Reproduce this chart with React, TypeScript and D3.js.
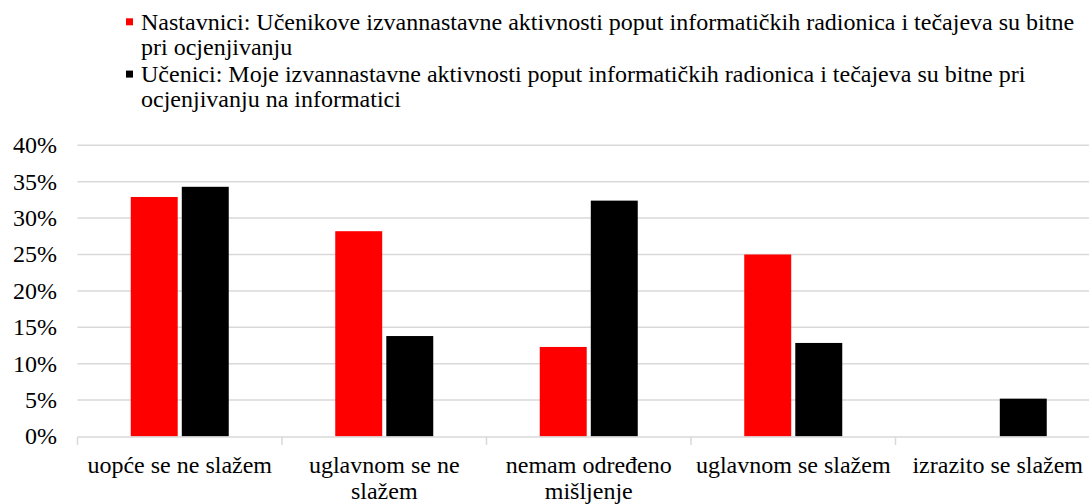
import React, { useEffect, useRef } from 'react';
import * as d3 from 'd3';

const categories = [
  'uopće se ne slažem',
  'uglavnom se ne slažem',
  'nemam određeno mišljenje',
  'uglavnom se slažem',
  'izrazito se slažem',
];
const seriesNames = [
  'Nastavnici: Učenikove izvannastavne aktivnosti poput informatičkih radionica i tečajeva su bitne pri ocjenjivanju',
  'Učenici: Moje izvannastavne aktivnosti poput informatičkih radionica i tečajeva su bitne pri ocjenjivanju na informatici',
];
const teachers = [32.9, 28.2, 12.3, 25.0, 0];
const students = [34.3, 13.8, 32.4, 12.85, 5.2];
const yTicks = [0, 5, 10, 15, 20, 25, 30, 35, 40];
const colors = ['#ff0000', '#000000'];

const W = 1089;
const H = 504;
const FONT = 'Liberation Serif';

// splits text into lines no wider than maxW
function wrapText(sel: any, text: string, maxW: number, x: number, y: number, lineH: number, anchor: string) {
  const words = text.split(' ');
  const lines: string[] = [];
  let cur = '';
  const probe = sel.append('text').style('visibility', 'hidden');
  words.forEach((w) => {
    const tryLine = cur ? cur + ' ' + w : w;
    probe.text(tryLine);
    if ((probe.node() as SVGTextElement).getComputedTextLength() > maxW && cur) {
      lines.push(cur);
      cur = w;
    } else {
      cur = tryLine;
    }
  });
  if (cur) lines.push(cur);
  probe.remove();
  lines.forEach((l, i) => {
    sel.append('text')
      .attr('x', x)
      .attr('y', y + i * lineH)
      .attr('text-anchor', anchor)
      .text(l);
  });
  return lines.length;
}

export default function App() {
  const ref = useRef<SVGSVGElement>(null);

  useEffect(() => {
    document.body.style.margin = '0';
    const svg = d3.select(ref.current);
    svg.selectAll('*').remove();

    // plot area runs a bit past the right edge of the picture
    const x = d3.scaleBand().domain(categories).range([77.5, 1100]);
    const x1 = d3.scaleBand().domain(['0', '1']).range([-49, 49]).paddingInner(0.08);
    const y = d3.scaleLinear().domain([0, 40]).range([436.5, 145.3]);

    // gridlines
    svg.append('g')
      .selectAll('line')
      .data(yTicks.filter((t) => t > 0))
      .enter()
      .append('line')
      .attr('x1', x.range()[0])
      .attr('x2', x.range()[1])
      .attr('y1', (d) => y(d))
      .attr('y2', (d) => y(d))
      .attr('stroke', '#d9d9d9')
      .attr('stroke-width', 1.5);

    // y labels
    svg.append('g')
      .attr('font-family', FONT)
      .attr('font-size', 24)
      .selectAll('text')
      .data(yTicks)
      .enter()
      .append('text')
      .attr('x', 57)
      .attr('y', (d) => y(d))
      .attr('dy', '0.33em')
      .attr('text-anchor', 'end')
      .attr('fill', '#000')
      .text((d) => d + '%');

    // bars
    const data = [teachers, students];
    data.forEach((vals, si) => {
      svg.append('g')
        .selectAll('rect')
        .data(vals.map((v, i) => ({ v, c: categories[i] })).filter((d) => d.v > 0))
        .enter()
        .append('rect')
        .attr('x', (d) => (x(d.c) as number) + x.bandwidth() / 2 + (x1(String(si)) as number))
        .attr('width', x1.bandwidth())
        .attr('y', (d) => y(d.v))
        .attr('height', (d) => y(0) - y(d.v))
        .attr('fill', colors[si]);
    });

    // x axis line + ticks
    const axisY = y(0) + 0.5;
    svg.append('line')
      .attr('x1', x.range()[0]).attr('x2', x.range()[1])
      .attr('y1', axisY).attr('y2', axisY)
      .attr('stroke', '#d9d9d9').attr('stroke-width', 1.5);
    const bounds = categories.map((c) => x(c) as number).concat([x.range()[1]]);
    svg.append('g')
      .selectAll('line')
      .data(bounds)
      .enter()
      .append('line')
      .attr('x1', (d) => d).attr('x2', (d) => d)
      .attr('y1', axisY).attr('y2', axisY + 8)
      .attr('stroke', '#d9d9d9').attr('stroke-width', 1.5);

    // x labels
    const xl = svg.append('g')
      .attr('font-family', FONT)
      .attr('font-size', 24)
      .attr('fill', '#000');
    categories.forEach((c) => {
      wrapText(xl, c, x.bandwidth() - 6, (x(c) as number) + x.bandwidth() / 2, 472.5, 26.5, 'middle');
    });

    // legend
    const lg = svg.append('g')
      .attr('font-family', FONT)
      .attr('font-size', 24)
      .attr('fill', '#000');
    let ly = 29.5;
    seriesNames.forEach((name, i) => {
      lg.append('rect')
        .attr('x', 126).attr('y', ly - 11.2)
        .attr('width', 7).attr('height', 7)
        .attr('fill', colors[i]);
      const n = wrapText(lg, name, 945, 141, ly, 25.3, 'start');
      ly += n * 25.3 + 1.7;
    });
  }, []);

  return <svg ref={ref} width={W} height={H} style={{ display: 'block', background: '#fff' }} />;
}
